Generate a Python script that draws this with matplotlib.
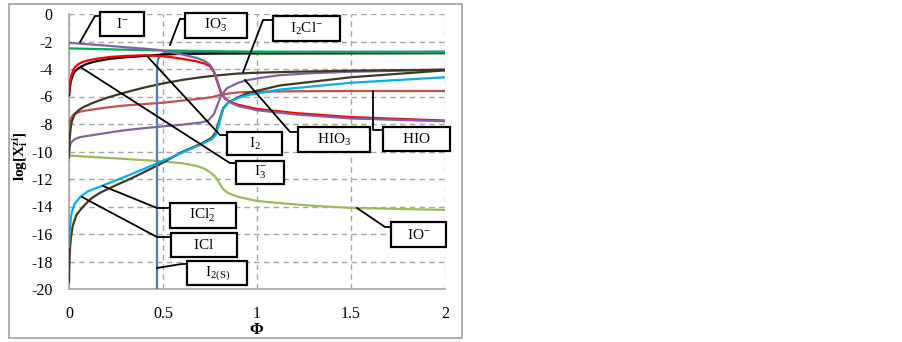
import numpy as np
import matplotlib
matplotlib.use('Agg')
import matplotlib.pyplot as plt
from matplotlib.patches import Rectangle

plt.rcParams['font.family'] = ['Liberation Serif', 'DejaVu Serif']
plt.rcParams['mathtext.fontset'] = 'custom'
plt.rcParams['mathtext.rm'] = 'Liberation Serif'
plt.rcParams['mathtext.it'] = 'Liberation Serif:italic'
plt.rcParams['mathtext.bf'] = 'Liberation Serif:bold'
plt.rcParams['axes.unicode_minus'] = False

# species curves: phi -> log[X]
phi_I = [0, 0.1, 0.2, 0.3, 0.4, 0.48, 0.55, 0.62, 0.68, 0.72, 0.75, 0.77, 0.79, 0.81, 0.83, 0.86, 0.9, 1.0, 1.2, 1.5, 2.0]
log_I = [-2.1, -2.2, -2.3, -2.42, -2.52, -2.62, -2.8, -3.0, -3.2, -3.4, -3.7, -4.1, -4.9, -5.7, -6.15, -6.45, -6.7, -7.0, -7.3, -7.6, -7.8]

phi_IO3 = [0, 0.25, 0.5, 0.75, 1.0, 1.5, 2.0]
log_IO3 = [-2.5, -2.58, -2.65, -2.7, -2.75, -2.78, -2.8]

phi_I2 = [0, 0.005, 0.01, 0.02, 0.03, 0.05, 0.07, 0.1, 0.15, 0.22, 0.3, 0.4, 0.48, 0.55, 0.62, 0.68, 0.72, 0.75, 0.77, 0.79, 0.81, 0.83, 0.86, 0.9, 1.0, 1.2, 1.5, 2.0]
log_I2 = [-5.8, -5.0, -4.6, -4.15, -3.9, -3.65, -3.5, -3.38, -3.25, -3.12, -3.05, -3.0, -3.05, -3.15, -3.3, -3.45, -3.6, -3.8, -4.2, -5.0, -5.8, -6.15, -6.4, -6.6, -6.9, -7.2, -7.5, -7.75]

phi_I3 = [0, 0.005, 0.01, 0.02, 0.03, 0.05, 0.07, 0.1, 0.15, 0.22, 0.3, 0.4, 0.5, 0.6, 0.8, 1.0, 1.5, 2.0]
log_I3 = [-6.0, -5.3, -4.9, -4.45, -4.2, -3.95, -3.78, -3.6, -3.42, -3.25, -3.15, -3.05, -2.95, -2.9, -2.88, -2.87, -2.86, -2.85]

phi_I2S = [0.468, 0.468, 0.469, 0.471, 0.475, 0.482, 0.49, 0.5, 0.52, 0.55, 0.7, 1.0, 1.5, 2.0]
log_I2S = [-20.0, -4.3, -3.8, -3.5, -3.25, -3.05, -2.95, -2.88, -2.82, -2.78, -2.76, -2.75, -2.74, -2.73]

phi_I2Cl = [0, 0.003, 0.008, 0.015, 0.03, 0.05, 0.08, 0.13, 0.2, 0.3, 0.4, 0.5, 0.6, 0.7, 0.8, 0.9, 1.0, 1.2, 1.5, 2.0]
log_I2Cl = [-10.5, -9.2, -8.4, -7.8, -7.3, -7.0, -6.75, -6.45, -6.1, -5.7, -5.35, -5.05, -4.8, -4.6, -4.45, -4.33, -4.27, -4.2, -4.12, -4.05]

phi_HIO = [0, 0.003, 0.008, 0.015, 0.03, 0.06, 0.1, 0.2, 0.3, 0.4, 0.5, 0.6, 0.7, 0.76, 0.8, 0.85, 0.9, 1.0, 1.2, 1.5, 2.0]
log_HIO = [-8.2, -7.9, -7.65, -7.45, -7.25, -7.1, -7.0, -6.8, -6.65, -6.55, -6.45, -6.3, -6.15, -6.05, -5.9, -5.78, -5.7, -5.65, -5.62, -5.6, -5.6]

phi_HIO3 = [0, 0.003, 0.008, 0.015, 0.03, 0.06, 0.13, 0.2, 0.3, 0.4, 0.48, 0.6, 0.7, 0.74, 0.77, 0.79, 0.81, 0.84, 0.9, 0.95, 1.05, 1.12, 1.3, 1.5, 2.0]
log_HIO3 = [-9.9, -9.65, -9.45, -9.3, -9.1, -8.95, -8.8, -8.65, -8.45, -8.3, -8.2, -8.05, -7.9, -7.75, -7.3, -6.6, -5.9, -5.4, -5.0, -4.8, -4.58, -4.45, -4.3, -4.2, -4.05]

phi_ICl = [0, 0.002, 0.005, 0.01, 0.015, 0.03, 0.06, 0.1, 0.165, 0.25, 0.34, 0.48, 0.6, 0.7, 0.76, 0.78, 0.8, 0.82, 0.85, 0.9, 0.95, 1.12, 1.5, 2.0]
log_ICl = [-17.0, -16.2, -15.5, -14.8, -14.4, -13.8, -13.3, -12.9, -12.55, -12.1, -11.6, -10.8, -10.1, -9.5, -9.1, -8.8, -7.9, -6.9, -6.4, -6.1, -5.9, -5.5, -5.0, -4.6]

phi_ICl2 = [0, 0.001, 0.003, 0.006, 0.01, 0.02, 0.04, 0.075, 0.12, 0.165, 0.25, 0.34, 0.48, 0.6, 0.7, 0.76, 0.78, 0.8, 0.82, 0.85, 0.9, 0.95, 1.12, 1.5, 2.0]
log_ICl2 = [-19.6, -18.6, -17.7, -16.9, -16.3, -15.4, -14.6, -14.0, -13.4, -13.0, -12.45, -11.9, -10.95, -10.05, -9.45, -9.0, -8.6, -7.7, -6.85, -6.4, -6.05, -5.75, -5.2, -4.6, -4.1]

phi_IO = [0, 0.25, 0.48, 0.6, 0.68, 0.72, 0.75, 0.78, 0.8, 0.82, 0.85, 0.9, 1.0, 1.12, 1.3, 1.5, 2.0]
log_IO = [-10.3, -10.5, -10.7, -10.85, -11.05, -11.25, -11.5, -11.85, -12.3, -12.75, -13.05, -13.3, -13.6, -13.75, -13.95, -14.1, -14.25]

curves = [
    (phi_IO, log_IO, '#9bbb59'),
    (phi_HIO, log_HIO, '#c0504d'),
    (phi_HIO3, log_HIO3, '#8064a2'),
    (phi_ICl2, log_ICl2, '#3e3a22'),
    (phi_ICl, log_ICl, '#00b0f0'),
    (phi_I2Cl, log_I2Cl, '#3e3a22'),
    (phi_I2S, log_I2S, '#4a7ebb'),
    (phi_I3, log_I3, '#000000'),
    (phi_I2, log_I2, '#ff0000'),
    (phi_IO3, log_IO3, '#00b050'),
    (phi_I, log_I, '#8064a2'),
]

# label boxes: text, box (x0, x1, y0, y1), leader points
labels = [
    (r'$\mathrm{I^{-}}$', (0.165, 0.399, 0.145, -1.6), [(0.059, -2.04), (0.138, -0.145), (0.165, -0.145)]),
    (r'$\mathrm{IO_3^{-}}$', (0.617, 0.947, 0.073, -1.745), [(0.537, -2.25), (0.590, -0.36), (0.617, -0.36)]),
    (r'$\mathrm{I_2Cl^{-}}$', (1.085, 1.441, -0.145, -1.964), [(0.926, -4.22), (1.032, -0.436), (1.085, -0.436)]),
    (r'$\mathrm{I_2}$', (0.840, 1.133, -8.58, -10.25), [(0.420, -3.13), (0.803, -8.80), (0.840, -8.80)]),
    (r'$\mathrm{I_3^{-}}$', (0.888, 1.144, -10.69, -12.36), [(0.069, -3.93), (0.856, -10.84), (0.888, -10.84)]),
    (r'$\mathrm{HIO_3}$', (1.218, 1.601, -8.22, -10.04), [(0.936, -4.8), (1.176, -8.58), (1.218, -8.58)]),
    (r'$\mathrm{HIO}$', (1.670, 2.027, -8.22, -9.96), [(1.617, -5.6), (1.617, -8.44), (1.670, -8.44)]),
    (r'$\mathrm{ICl_2^{-}}$', (0.537, 0.888, -13.75, -15.56), [(0.181, -12.51), (0.468, -14.11), (0.537, -14.11)]),
    (r'$\mathrm{ICl}$', (0.543, 0.894, -15.93, -17.67), [(0.069, -13.31), (0.468, -16.22), (0.543, -16.22)]),
    (r'$\mathrm{I_{2(S)}}$', (0.628, 0.947, -17.96, -19.71), [(0.468, -18.47), (0.601, -18.18), (0.628, -18.18)]),
    (r'$\mathrm{IO^{-}}$', (1.713, 2.005, -15.13, -16.95), [(1.532, -14.11), (1.681, -15.49), (1.713, -15.49)]),
]

x_ticks = [0, 0.5, 1, 1.5, 2]
x_ticklabels = ['0', '0.5', '1', '1.5', '2']
y_ticks = list(range(-20, 1, 2))


def main():
    fig = plt.figure(figsize=(9.03, 3.42), dpi=100)
    ax = fig.add_axes([69 / 903, 53 / 342, 376 / 903, 275 / 342])

    for xs, ys, c in curves:
        ax.plot(xs, ys, color=c, lw=1.6, solid_capstyle='butt', zorder=3)

    ax.set_xlim(0, 2)
    ax.set_ylim(-20, 0)
    ax.set_xticks(x_ticks)
    ax.set_xticklabels(x_ticklabels)
    ax.set_yticks(y_ticks)
    ax.tick_params(length=0, labelsize=11.5)
    ax.tick_params(axis='x', pad=12)
    ax.tick_params(axis='y', pad=12)
    ax.grid(True, color='#a6a6a6', lw=1, linestyle=(0, (4, 3)), zorder=1)
    for s in ['top', 'right']:
        ax.spines[s].set_visible(False)
    for s in ['left', 'bottom']:
        ax.spines[s].set_color('#a6a6a6')
        ax.spines[s].set_linewidth(1.2)

    ax.set_xlabel(r'$\mathbf{\Phi}$', fontsize=12, fontweight='bold')
    ax.xaxis.set_label_coords(0.5, -41 / 275)
    ax.xaxis.label.set_va('center')
    ax.set_ylabel(r'$\mathbf{log[X_{i}^{zi}]}$', fontsize=11, fontweight='bold')
    ax.yaxis.set_label_coords(-49 / 376, 133 / 275)
    ax.yaxis.label.set_va('center')

    for txt, (x0, x1, y0, y1), pts in labels:
        px, py = zip(*pts)
        ax.plot(px, py, color='black', lw=1.3, clip_on=False, zorder=5)
        ax.add_patch(Rectangle((x0, y1), x1 - x0, y0 - y1, fc='white', ec='black',
                               lw=1.6, clip_on=False, zorder=6))
        ax.text((x0 + x1) / 2, (y0 + y1) / 2, txt, ha='center', va='center',
                fontsize=11, zorder=7)

    fig.add_artist(Rectangle((9 / 903, 4 / 342), 453 / 903, 334 / 342, transform=fig.transFigure,
                             fill=False, ec='#a0a0a0', lw=1.2))

    fig.savefig('out.png', dpi=100)


if __name__ == '__main__':
    main()
